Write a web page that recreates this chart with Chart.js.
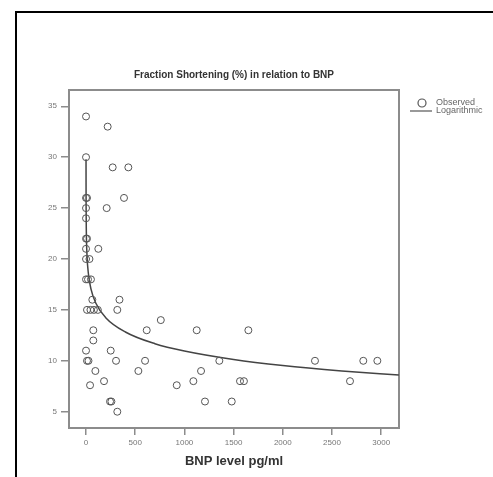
<!DOCTYPE html>
<html>
<head>
<meta charset="utf-8">
<script src="https://cdn.jsdelivr.net/npm/chart.js@4/dist/chart.umd.min.js"></script>
<style>
  body { margin: 0; background: white; }
  #wrap { position: relative; width: 493px; height: 477px; }
  #edge { position: absolute; left: 15px; top: 11px; right: 0; bottom: 0; border-left: 2px solid black; border-top: 2px solid black; pointer-events: none; }
</style>
</head>
<body>
<div id="wrap">
  <canvas id="myChart" width="493" height="477"></canvas>
  <div id="edge"></div>
</div>
<script>
// observed values (BNP pg/ml, FS %)
const bnp = [0, 220, 0, 271, 430, 386, 0, 10, 210, 0, 0, 0, 10, 0, 125, 0, 35, 0, 20, 50,
  64, 340, 10, 45, 80, 120, 318, 74, 617, 760, 74, 0, 251, 10, 25, 305, 600, 95, 532, 41,
  183, 244, 258, 318, 922, 1125, 1650, 1355, 1169, 1091, 1565, 1605, 1209, 1481, 2327, 2683, 2818, 2961];
const fs = [34, 33, 30, 29, 29, 26, 26, 26, 25, 25, 24, 22, 22, 21, 21, 20, 20, 18, 18, 18,
  16, 16, 15, 15, 15, 15, 15, 13, 13, 14, 12, 11, 11, 10, 10, 10, 10, 9, 9, 7.6,
  8, 6, 6, 5, 7.6, 13, 13, 10, 9, 8, 8, 8, 6, 6, 10, 8, 10, 10];

// logarithmic fit line
const fitBnp = [0.1, 0.3, 1, 3, 10, 25, 50, 100, 200, 400, 700, 1000, 1500, 2000, 2600, 3180];
const fitFs = [29.8, 27.5, 25.05, 22.8, 20.35, 18.5, 17.07, 15.65, 14.24, 12.83, 11.68, 10.96, 10.13, 9.54, 9.01, 8.6];

const xTicks = [0, 500, 1000, 1500, 2000, 2500, 3000];
const yTicks = [5, 10, 15, 20, 25, 30, 35];

const titleText = "Fraction Shortening (%) in relation to BNP";
const xTitle = "BNP level pg/ml";
const legendLabels = ["Observed", "Logarithmic"];

const grey = "#8c8c8c";
const markColor = "#555";
const font = "'Liberation Sans', Arial, sans-serif";

const observed = bnp.map((b, i) => ({ x: b, y: fs[i] }));
const fitted = fitBnp.map((b, i) => ({ x: b, y: fitFs[i] }));

// box round the plot area
const framePlugin = {
  id: "frame",
  beforeDatasetsDraw(chart) {
    const a = chart.chartArea;
    const ctx = chart.ctx;
    ctx.save();
    ctx.strokeStyle = grey;
    ctx.lineWidth = 2;
    ctx.strokeRect(a.left, a.top, a.right - a.left, a.bottom - a.top);
    ctx.restore();
  }
};

// legend on the right, cut by the page edge like the original
const legendPlugin = {
  id: "sideLegend",
  afterDraw(chart) {
    const ctx = chart.ctx;
    const a = chart.chartArea;
    const x0 = a.right + 11;
    const y0 = a.top + 13;
    ctx.save();
    ctx.strokeStyle = markColor;
    ctx.lineWidth = 1.2;
    ctx.beginPath();
    ctx.arc(x0 + 12, y0, 4, 0, Math.PI * 2);
    ctx.stroke();
    ctx.beginPath();
    ctx.moveTo(x0, y0 + 8);
    ctx.lineTo(x0 + 22, y0 + 8);
    ctx.stroke();
    ctx.fillStyle = "#666";
    ctx.font = "9px " + font;
    ctx.textBaseline = "middle";
    ctx.fillText(legendLabels[0], x0 + 26, y0);
    ctx.fillText(legendLabels[1], x0 + 26, y0 + 8);
    ctx.restore();
  }
};

const ctx = document.getElementById("myChart").getContext("2d");
const chart = new Chart(ctx, {
  type: "scatter",
  data: {
    datasets: [{
      label: legendLabels[0],
      data: observed,
      pointStyle: "circle",
      pointRadius: 3.5,
      pointBorderWidth: 1,
      pointBorderColor: markColor,
      pointBackgroundColor: "rgba(0,0,0,0)"
    }, {
      label: legendLabels[1],
      data: fitted,
      showLine: true,
      pointRadius: 0,
      borderColor: "#444",
      borderWidth: 1.5,
      cubicInterpolationMode: "monotone"
    }]
  },
  plugins: [framePlugin, legendPlugin],
  options: {
    responsive: false,
    animation: false,
    layout: { padding: { left: 0, right: 94, top: 0, bottom: 0 } },
    plugins: {
      legend: { display: false },
      tooltip: { enabled: false },
      title: {
        display: true,
        text: titleText,
        fullSize: false,
        color: "#333",
        font: { family: font, size: 10, weight: "bold" },
        padding: { top: 69, bottom: 9 }
      }
    },
    scales: {
      x: {
        type: "linear",
        min: -173,
        max: 3181,
        afterBuildTicks: scale => { scale.ticks = xTicks.map(v => ({ value: v })); },
        afterFit: scale => { scale.height = 49; },
        grid: { drawOnChartArea: false, drawTicks: true, tickLength: 7, color: grey, lineWidth: 1.5 },
        border: { display: false },
        ticks: { color: "#777", padding: 3, font: { family: font, size: 8 }, callback: v => String(v) },
        title: {
          display: true,
          text: xTitle,
          color: "#333",
          font: { family: font, size: 13, weight: "bold" },
          padding: { top: 0, bottom: 8 }
        }
      },
      y: {
        type: "linear",
        min: 3.4,
        max: 36.6,
        afterBuildTicks: scale => { scale.ticks = yTicks.map(v => ({ value: v })); },
        afterFit: scale => { scale.width = 69; },
        grid: { drawOnChartArea: false, drawTicks: true, tickLength: 8, color: grey, lineWidth: 1.5 },
        border: { display: false },
        ticks: { color: "#777", padding: 4, font: { family: font, size: 8 }, callback: v => String(v) }
      }
    }
  }
});
</script>
</body>
</html>
